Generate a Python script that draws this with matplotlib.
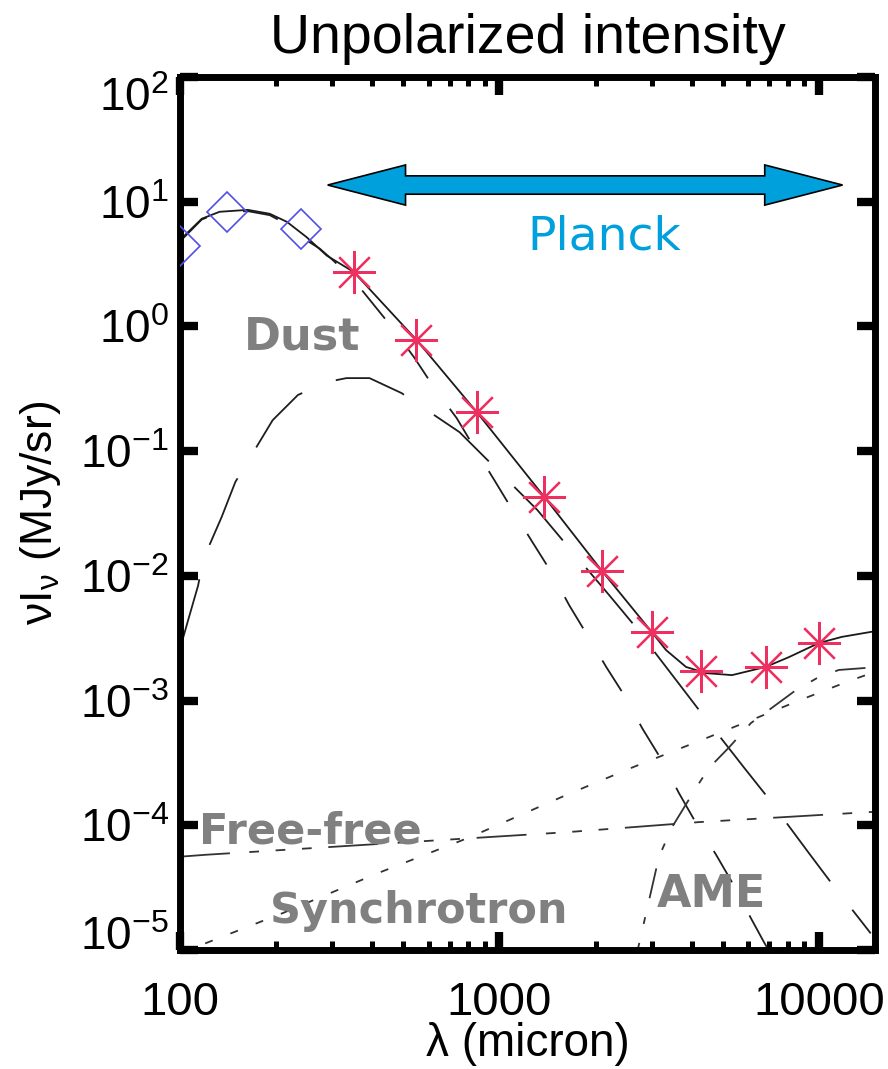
import matplotlib
matplotlib.use('Agg')
import matplotlib.pyplot as plt
from matplotlib.patches import Polygon
from matplotlib.ticker import LogLocator, NullLocator, FuncFormatter, LogFormatterMathtext

plt.rcParams['font.family'] = ['Liberation Sans', 'DejaVu Sans']
plt.rcParams['mathtext.fontset'] = 'custom'
plt.rcParams['mathtext.rm'] = 'Liberation Sans'
plt.rcParams['mathtext.it'] = 'Liberation Sans:italic'
plt.rcParams['lines.scale_dashes'] = False

# wavelength in micron, nu*I_nu in MJy/sr
iras_wl = [100, 140, 240]
iras_int = [4.4, 8.3, 6.0]

planck_wl = [350, 550, 849, 1382, 2098, 2998, 4283, 6813, 9993]
planck_int = [2.73, 0.78, 0.206, 0.0428, 0.0109, 3.55e-3, 1.73e-3, 1.86e-3, 2.89e-3]

total_wl = [100, 117, 133, 163, 191, 216, 249, 288, 350, 550, 849, 1384, 2098, 2998,
            3325, 3840, 4435, 4870, 5350, 6813, 8060, 9993, 11800, 15000]
total_int = [4.93, 7.3, 8.3, 8.6, 8.0, 6.9, 5.2, 3.7, 2.73, 0.78, 0.206, 0.0428, 0.0109, 3.55e-3,
             2.54e-3, 1.86e-3, 1.66e-3, 1.63e-3, 1.60e-3, 1.86e-3, 2.23e-3, 2.89e-3, 3.24e-3, 3.6e-3]

# warm dust component
dust1_wl = [100, 117, 133, 163, 191, 216, 249, 274, 301, 350, 393, 463, 542, 626, 735, 836,
            964, 1099, 1268, 1454, 1655, 1884, 2160, 2490, 2800, 3230, 3650, 4130, 4770,
            5420, 6130, 6730, 7500]
dust1_int = [4.8, 7.2, 8.2, 8.4, 7.8, 6.6, 4.9, 4.2, 3.4, 2.35, 1.63, 0.97, 0.56, 0.32, 0.184,
             0.106, 0.0586, 0.0337, 0.0187, 0.0107, 5.8e-3, 3.35e-3, 1.86e-3, 1.05e-3, 6.0e-4,
             3.3e-4, 1.81e-4, 1.04e-4, 5.8e-5, 3.3e-5, 1.8e-5, 1.16e-5, 7.2e-6]

# cold dust component
dust2_wl = [100, 106, 114, 118, 135, 149, 195, 234, 288, 332, 392, 494, 750, 917, 1315, 1575,
            2207, 2605, 3575, 4217, 5835, 6825, 9305, 10900, 14540]
dust2_int = [2.6e-3, 4.4e-3, 8.4e-3, 0.0134, 0.0296, 0.0565, 0.177, 0.282, 0.358, 0.385, 0.385,
             0.292, 0.142, 0.085, 0.0337, 0.0194, 7.0e-3, 4.2e-3, 1.46e-3, 8.4e-4, 2.9e-4,
             1.75e-4, 6.0e-5, 3.5e-5, 1.36e-5]

sync_wl = [100, 121, 210, 413, 806, 1620, 2600, 4530, 6170, 8660, 12400, 15000]
sync_int = [9.4e-6, 1.14e-5, 1.98e-5, 4.1e-5, 8.0e-5, 1.75e-4, 2.9e-4, 5.1e-4, 7.0e-4,
            1.0e-3, 1.43e-3, 1.7e-3]

ff_wl = [100, 120, 1620, 4200, 14700]
ff_int = [5.6e-5, 5.8e-5, 8.8e-5, 1.06e-4, 1.28e-4]

ame_wl = [2600, 2740, 3160, 3475, 4130, 4530, 5230, 6130, 6980, 8470, 9850, 11550, 15000]
ame_int = [6.6e-6, 1.13e-5, 5.6e-5, 9.7e-5, 2.0e-4, 2.88e-4, 4.2e-4, 6.6e-4, 8.4e-4,
           1.21e-3, 1.51e-3, 1.76e-3, 1.85e-3]

planck_band = (290, 11870)
planck_arrow_y = 13.6

fig = plt.figure(figsize=(8.88, 10.69), dpi=100)
ax = fig.add_axes([0.2027, 0.1113, 0.7827, 0.8167])
ax.set_xscale('log')
ax.set_yscale('log')
ax.set_xlim(100, 15000)
ax.set_ylim(1e-5, 1e2)

lw = 1.3
ax.plot(dust1_wl, dust1_int, color='#1e1e1e', lw=lw, dashes=(26, 27))
ax.plot(dust2_wl, dust2_int, color='#1e1e1e', lw=lw, dashes=(52, 26))
ax.plot(ff_wl, ff_int, color='#333333', lw=lw, dashes=(36, 14, 7, 12, 7, 12, 7, 12))
ax.plot(sync_wl, sync_int, color='#333333', lw=lw, dashes=(5.8, 13.7))
ax.plot(ame_wl, ame_int, color='#333333', lw=lw, dashes=(22, 14, 5, 14))
ax.plot(total_wl, total_int, color='#1a1a1a', lw=lw)

ax.plot(iras_wl, iras_int, ls='none', marker='D', ms=20, mfc='none', mec='#5050e6', mew=1.2,
        zorder=3)
ax.plot(planck_wl, planck_int, ls='none', marker=(8, 2, 0), ms=31, mec='#ee3060', mew=1.6,
        zorder=3)

# double-headed arrow marking the Planck wavelength coverage
to_axes = ax.transData + ax.transAxes.inverted()
(ax0, ay), (ax1, _) = to_axes.transform([(planck_band[0], planck_arrow_y),
                                         (planck_band[1], planck_arrow_y)])
hl, hh, sh = 0.112, 0.023, 0.0105
arrow_pts = [(ax0, ay), (ax0 + hl, ay + hh), (ax0 + hl, ay + sh), (ax1 - hl, ay + sh),
             (ax1 - hl, ay + hh), (ax1, ay), (ax1 - hl, ay - hh), (ax1 - hl, ay - sh),
             (ax0 + hl, ay - sh), (ax0 + hl, ay - hh)]
ax.add_patch(Polygon(arrow_pts, closed=True, transform=ax.transAxes, fc='#00a0dc',
                     ec='black', lw=1.2, zorder=4))
ax.text(2130, 4.1, 'Planck', color='#00a0dc', fontsize=34, ha='center', va='baseline',
        family='DejaVu Sans')

lab = dict(color='#808080', fontweight='bold', family='DejaVu Sans', ha='left', va='baseline')
ax.text(158, 0.65, 'Dust', fontsize=32, **lab)
ax.text(115, 7.2e-5, 'Free-free', fontsize=31, **lab)
ax.text(191, 1.64e-5, 'Synchrotron', fontsize=31, **lab)
ax.text(3120, 2.2e-5, 'AME', fontsize=32, **lab)

for s in ax.spines.values():
    s.set_linewidth(5)

ax.xaxis.set_major_locator(LogLocator(base=10))
ax.xaxis.set_major_formatter(FuncFormatter(lambda v, p: '%d' % v))
ax.set_yticks([10.0 ** k for k in range(-5, 3)])
ax.yaxis.set_major_formatter(LogFormatterMathtext())
ax.yaxis.set_minor_locator(NullLocator())
ax.tick_params(which='both', direction='in', top=True, right=True)
ax.tick_params(which='major', length=13, width=6)
ax.tick_params(which='minor', length=6.5, width=3.6)
ax.tick_params(axis='x', labelsize=34, pad=22)
ax.tick_params(axis='y', labelsize=33, pad=8)

# keep the end labels inside the axis height
yticks = ax.yaxis.get_major_ticks()
yticks[0].label1.set_va('baseline')
yticks[-1].label1.set_va('top')

ax.set_title('Unpolarized intensity', fontsize=40, pad=17)
ax.set_xlabel('λ (micron)', fontsize=33)
ax.set_ylabel(r'$\mathregular{\nu I_{\nu}}$ (MJy/sr)', fontsize=32)
ax.xaxis.set_label_coords(0.5, -0.083)
ax.yaxis.set_label_coords(-0.168, 0.5)

fig.savefig('out.png', dpi=100)
